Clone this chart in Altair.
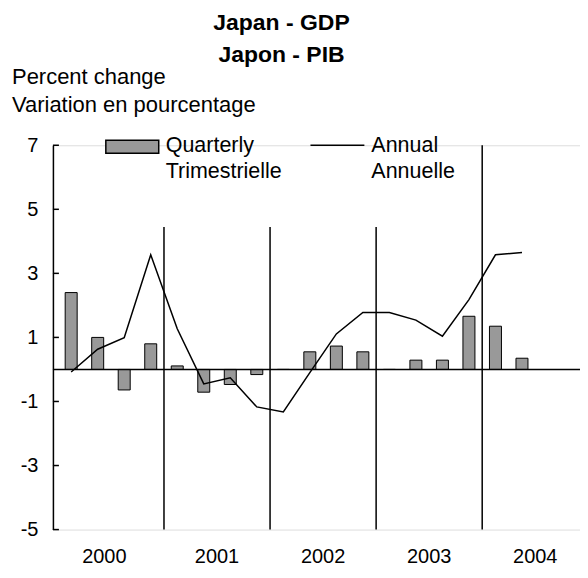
import altair as alt
import pandas as pd

# ---- data ----
quarters = ["2000Q1", "2000Q2", "2000Q3", "2000Q4",
            "2001Q1", "2001Q2", "2001Q3", "2001Q4",
            "2002Q1", "2002Q2", "2002Q3", "2002Q4",
            "2003Q1", "2003Q2", "2003Q3", "2003Q4",
            "2004Q1", "2004Q2"]
quarterly = [2.4, 1.0, -0.64, 0.8, 0.11, -0.71, -0.47, -0.16,
             0.0, 0.55, 0.73, 0.55, 0.0, 0.29, 0.29, 1.66, 1.35, 0.35]
annual = [-0.08, 0.63, 0.99, 3.58, 1.27, -0.45, -0.26, -1.17,
          -1.33, -0.1, 1.11, 1.78, 1.78, 1.54, 1.04, 2.18, 3.58, 3.65]
years = ["2000", "2001", "2002", "2003", "2004"]
year_pos = [1.75, 6, 10, 14, 18]
y_ticks = [-5, -3, -1, 1, 3, 5, 7]
separator_pos = [4, 8, 12, 16]
separator_top = [4.45, 4.45, 4.45, 7.0]

FONT = "Liberation Sans"
W, H = 528, 385
XMAX = 19.5

df = pd.DataFrame({
    "q": quarters,
    "pos": [i + 0.5 for i in range(len(quarters))],
    "quarterly": quarterly,
    "annual": annual,
})
years_df = pd.DataFrame({"year": years, "pos": year_pos})
sep_df = pd.DataFrame({"pos": separator_pos, "top": separator_top, "bottom": [-5] * 4})
tick_df = pd.DataFrame({"v": y_ticks})

xs = alt.Scale(domain=[0, XMAX], nice=False, zero=False)
ys = alt.Scale(domain=[-5, 7], nice=False)

base = alt.Chart(df)

bars = base.mark_bar(size=12, fill="#999999", stroke="black", strokeWidth=1).encode(
    x=alt.X("pos:Q", scale=xs, axis=None),
    y=alt.Y("quarterly:Q", scale=ys,
            axis=alt.Axis(values=y_ticks, ticks=False, grid=False, domainColor="black",
                          domainWidth=1.5, labelFont=FONT, labelFontSize=20,
                          labelColor="black", labelPadding=15, title=None,
                          labelExpr="toString(datum.value)")),
    y2=alt.datum(0),
)

zero = alt.Chart(pd.DataFrame({"z": [0]})).mark_rule(color="black", strokeWidth=1.5).encode(
    y=alt.Y("z:Q", scale=ys), x=alt.value(0), x2=alt.value(W)
)

seps = alt.Chart(sep_df).mark_rule(color="black", strokeWidth=1.5).encode(
    x=alt.X("pos:Q", scale=xs), y=alt.Y("bottom:Q", scale=ys), y2="top:Q"
)

ticks = alt.Chart(tick_df).mark_rule(color="black", strokeWidth=1.5).encode(
    y=alt.Y("v:Q", scale=ys), x=alt.value(0), x2=alt.value(6)
)

line = base.mark_line(color="black", strokeWidth=1.5).encode(
    x=alt.X("pos:Q", scale=xs), y=alt.Y("annual:Q", scale=ys)
)

OX, OY = 53, 145  # view origin in page coordinates

year_labels = alt.Chart(years_df).mark_text(font=FONT, fontSize=20, color="black",
                                            baseline="alphabetic").encode(
    x=alt.X("pos:Q", scale=xs), y=alt.value(563 - OY), text="year:N"
)

def txt(s, x, y, size=22, bold=False, align="left"):
    return alt.Chart(pd.DataFrame({"t": [s]})).mark_text(
        font=FONT, fontSize=size, fontWeight="bold" if bold else "normal",
        color="black", align=align, baseline="alphabetic"
    ).encode(x=alt.value(x), y=alt.value(y), text="t:N")

texts = [
    txt("Japan - GDP", 282 - OX, 30 - OY, size=23, bold=True, align="center"),
    txt("Japon - PIB", 282 - OX, 62 - OY, size=23, bold=True, align="center"),
    txt("Percent change", 12 - OX, 84 - OY),
    txt("Variation en pourcentage", 12 - OX, 112 - OY),
    txt("Quarterly", 166 - OX, 152 - OY, size=21.5),
    txt("Trimestrielle", 166 - OX, 178 - OY, size=21.5),
    txt("Annual", 372 - OX, 152 - OY, size=21.5),
    txt("Annuelle", 372 - OX, 178 - OY, size=21.5),
]

leg_bar = alt.Chart(pd.DataFrame({"a": [0]})).mark_rect(
    fill="#999999", stroke="black", strokeWidth=1.5
).encode(x=alt.value(106 - OX), x2=alt.value(159 - OX), y=alt.value(140 - OY), y2=alt.value(153 - OY))
leg_line = alt.Chart(pd.DataFrame({"a": [0]})).mark_rule(color="black", strokeWidth=1.5).encode(
    x=alt.value(311 - OX), x2=alt.value(365 - OX), y=alt.value(145 - OY)
)

chart = alt.layer(
    bars, zero, seps, ticks, line, year_labels, leg_bar, leg_line, *texts
).properties(
    width=W, height=H,
    autosize=alt.AutoSizeParams(type="none"),
    padding={"left": OX - 8, "top": OY - 8, "right": 0, "bottom": 40},
).configure_view(stroke=None).configure(background="white")

chart.save("out.html", embed_options={"renderer": "svg", "actions": False})
